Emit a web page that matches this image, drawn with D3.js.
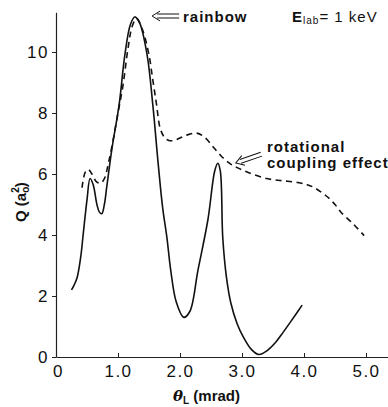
<!DOCTYPE html>
<html>
<head>
<meta charset="utf-8">
<title>Rainbow cross section</title>
<script src="https://d3js.org/d3.v7.min.js"></script>
<style>
  body, html { margin: 0; padding: 0; background: #fff; }
  svg { display: block; }
  .tick-label { font-family: "Liberation Sans Narrow", "Liberation Sans", sans-serif; font-size: 17px; fill: #111; letter-spacing: 1.5px; }
  .note { font-family: "Liberation Sans", Arial, sans-serif; font-weight: bold; font-size: 15px; fill: #111; letter-spacing: 1px; }
  .axis-title { font-family: "Liberation Sans", Arial, sans-serif; font-weight: bold; font-size: 15px; fill: #111; }
</style>
</head>
<body>
<svg id="chart" width="388" height="407"></svg>
<script>

// Solid curve (theta_L in mrad, Q in a0^2)
const thetaSolid = [0.25, 0.29, 0.34, 0.40, 0.44, 0.50, 0.55, 0.60, 0.66, 0.70, 0.74, 0.78, 0.82, 0.90,
  1.02, 1.11, 1.20, 1.27, 1.35, 1.47, 1.56, 1.65, 1.72, 1.79, 1.85, 1.94, 2.06, 2.16, 2.29, 2.45,
  2.56, 2.61, 2.65, 2.69, 2.75, 2.82, 2.92, 3.02, 3.15, 3.27, 3.40, 3.55, 3.66, 3.80, 3.97];
const qSolid = [2.2, 2.35, 2.6, 3.3, 4.05, 5.15, 5.85, 5.65, 5.0, 4.75, 4.7, 5.0, 5.6, 6.8,
  8.3, 9.9, 10.9, 11.15, 10.95, 9.9, 8.3, 6.3, 4.9, 3.9, 2.85, 1.8, 1.3, 1.5, 2.85, 4.5,
  6.1, 6.35, 6.1, 3.9, 2.6, 1.77, 1.1, 0.66, 0.25, 0.08, 0.2, 0.5, 0.8, 1.2, 1.7];

// Dashed curve
const thetaDashed = [0.42, 0.47, 0.52, 0.58, 0.65, 0.72, 0.78, 0.85, 0.92, 1.00, 1.08, 1.16, 1.23, 1.30,
  1.40, 1.50, 1.56, 1.62, 1.68, 1.75, 1.82, 1.90, 2.00, 2.10, 2.27, 2.40, 2.55, 2.66, 2.80, 2.93,
  3.10, 3.40, 3.65, 3.90, 4.05, 4.16, 4.28, 4.39, 4.50, 4.60, 4.80, 4.97];
const qDashed = [5.55, 6.05, 6.15, 6.0, 5.75, 5.7, 5.85, 6.4, 7.1, 8.0, 8.9, 10.1, 10.85, 11.1,
  10.7, 9.9, 9.1, 8.3, 7.5, 7.2, 7.1, 7.1, 7.18, 7.27, 7.34, 7.2, 6.85, 6.6, 6.35, 6.2,
  6.05, 5.85, 5.78, 5.72, 5.65, 5.56, 5.4, 5.23, 5.0, 4.74, 4.35, 3.98];

const xTicks = [0, 1, 2, 3, 4, 5];
const xTickLabels = ["0", "1.0", "2.0", "3.0", "4.0", "5.0"];
const yTicks = [0, 2, 4, 6, 8, 10];

const svg = d3.select("#chart");

const x = d3.scaleLinear().domain([0, 5.4]).range([56, 56 + 5.4 * 62]);
const y = d3.scaleLinear().domain([0, 11.3]).range([357, 357 - 11.3 * 30.5]);

// Axes
const xAxis = svg.append("g")
    .attr("transform", "translate(0," + y(0) + ")")
    .call(d3.axisBottom(x).tickValues(xTicks).tickSizeInner(-4).tickSizeOuter(0)
      .tickFormat((d, i) => xTickLabels[i]).tickPadding(10));

const yAxis = svg.append("g")
    .attr("transform", "translate(" + x(0) + ",0)")
    .call(d3.axisLeft(y).tickValues(yTicks).tickSizeInner(4).tickSizeOuter(0).tickPadding(3));

[xAxis, yAxis].forEach(a => {
  a.select(".domain").attr("stroke", "#222").attr("stroke-width", 1.2);
  a.selectAll(".tick line").attr("stroke", "#222").attr("stroke-width", 1);
  a.selectAll(".tick text").attr("class", "tick-label").attr("font-family", null).attr("font-size", null);
});
xAxis.selectAll(".tick text").attr("dy", "0.6em");
xAxis.select(".tick text").attr("dx", "2");

// Curves
const line = d3.line()
    .x(d => x(d[0]))
    .y(d => y(d[1]))
    .curve(d3.curveCatmullRom.alpha(0.5));

svg.append("path")
    .datum(d3.zip(thetaSolid, qSolid))
    .attr("fill", "none")
    .attr("stroke", "#111")
    .attr("stroke-width", 1.6)
    .attr("d", line);

svg.append("path")
    .datum(d3.zip(thetaDashed, qDashed))
    .attr("fill", "none")
    .attr("stroke", "#111")
    .attr("stroke-width", 1.6)
    .attr("stroke-dasharray", "6,4.5")
    .attr("d", line);

// Double-line open arrow pointing at (tx, ty), angle in degrees
function arrow(tx, ty, len, angle) {
  const g = svg.append("g")
      .attr("transform", "translate(" + tx + "," + ty + ")rotate(" + angle + ")")
      .attr("fill", "none")
      .attr("stroke", "#111")
      .attr("stroke-width", 1);
  g.append("path").attr("d", "M8,-5L0,0L8,5");
  g.append("path").attr("d", "M5,-2H" + len + "M5,2H" + len);
}

arrow(x(1.55), y(11.18), 27, 0);
arrow(x(2.9), y(6.36), 27, -19);

svg.append("text").attr("class", "note").attr("x", 183).attr("y", 22).text("rainbow");

svg.append("text").attr("class", "note").attr("x", 267).attr("y", 152).text("rotational");
svg.append("text").attr("class", "note").attr("x", 267).attr("y", 168).text("coupling effect");

const e = svg.append("text").attr("class", "note").attr("x", 292).attr("y", 22).attr("letter-spacing", 0);
e.append("tspan").text("E");
e.append("tspan").attr("font-size", 10).attr("font-weight", "normal").attr("dy", 2).text("lab");
e.append("tspan").attr("font-weight", "normal").attr("dy", -2).text("= 1 keV");

// Axis titles
const xt = svg.append("text").attr("class", "axis-title").attr("x", 173).attr("y", 401);
xt.append("tspan").attr("font-style", "italic").attr("font-family", "DejaVu Serif, serif").text("θ");
xt.append("tspan").attr("font-size", 10).attr("dy", 3).text("L");
xt.append("tspan").attr("dy", -3).text(" (mrad)");

const yt = svg.append("text").attr("class", "axis-title")
    .attr("transform", "translate(26,222)rotate(-90)");
yt.append("tspan").text("Q  (a");
yt.append("tspan").attr("font-size", 10).attr("dy", 3).text("o");
yt.append("tspan").attr("font-size", 10).attr("dy", -10).attr("dx", -6).text("2");
yt.append("tspan").attr("dy", 7).text(")");

</script>
</body>
</html>
